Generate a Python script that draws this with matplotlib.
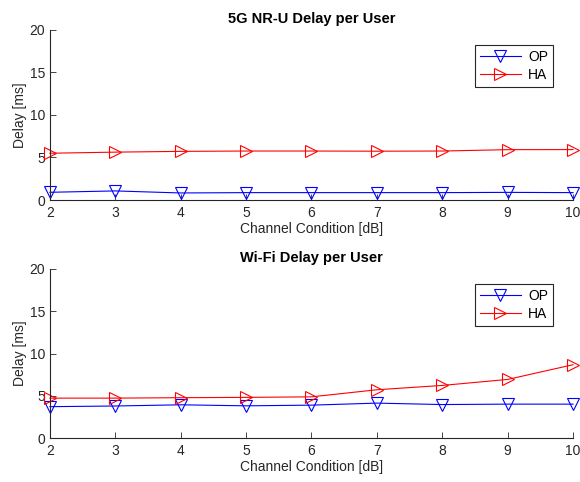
import matplotlib
matplotlib.use('Agg')
import matplotlib.pyplot as plt

# channel condition values (x axis)
channel_db = [2, 3, 4, 5, 6, 7, 8, 9, 10]

# 5G NR-U delay per user [ms]
nru_op = [0.91, 1.07, 0.83, 0.87, 0.87, 0.87, 0.87, 0.9, 0.87]
nru_ha = [5.5, 5.63, 5.72, 5.76, 5.76, 5.74, 5.76, 5.92, 5.93]

# Wi-Fi delay per user [ms]
wifi_op = [3.72, 3.8, 3.94, 3.82, 3.9, 4.14, 3.97, 4.02, 4.02]
wifi_ha = [4.73, 4.73, 4.78, 4.82, 4.88, 5.72, 6.23, 6.94, 8.68]

titles = ['5G NR-U Delay per User', 'Wi-Fi Delay per User']

plt.rcParams['font.family'] = ['Liberation Sans', 'DejaVu Sans']
plt.rcParams['font.size'] = 10

fig = plt.figure(figsize=(5.8, 4.82), dpi=100)
ax1 = fig.add_axes([0.086, 0.585, 0.902, 0.353])
ax2 = fig.add_axes([0.086, 0.091, 0.902, 0.351])

grey = '#262626'
for ax, op, ha, title in [(ax1, nru_op, nru_ha, titles[0]), (ax2, wifi_op, wifi_ha, titles[1])]:
    ax.plot(channel_db, op, color='blue', marker='v', markersize=9,
            markerfacecolor='none', markeredgewidth=0.8, linewidth=0.8, label='OP')
    ax.plot(channel_db, ha, color='red', marker='>', markersize=9,
            markerfacecolor='none', markeredgewidth=0.8, linewidth=0.8, label='HA')
    ax.set_xlim(2, 10)
    ax.set_ylim(0, 20)
    ax.set_xticks(channel_db)
    ax.set_yticks([0, 5, 10, 15, 20])
    ax.set_title(title, fontweight='bold', fontsize=10.5, color='black', pad=5)
    ax.set_xlabel('Channel Condition [dB]', color=grey, labelpad=2)
    ax.set_ylabel('Delay [ms]', color=grey, labelpad=2)
    ax.spines['top'].set_visible(False)
    ax.spines['right'].set_visible(False)
    for s in ['left', 'bottom']:
        ax.spines[s].set_color(grey)
        ax.spines[s].set_linewidth(0.8)
    ax.tick_params(direction='in', length=4, width=0.6, colors=grey, labelsize=10)
    ax.tick_params(axis='x', pad=4)
    leg = ax.legend(loc='upper right', bbox_to_anchor=(0.975, 0.95), fancybox=False,
                    edgecolor=grey, framealpha=1, fontsize=10, handlelength=3.0,
                    borderpad=0.35, labelspacing=0.25, handletextpad=0.5)
    leg.get_frame().set_linewidth(0.8)
    for ln in ax.get_lines():
        ln.set_clip_on(False)

fig.savefig('out.png', dpi=100)
